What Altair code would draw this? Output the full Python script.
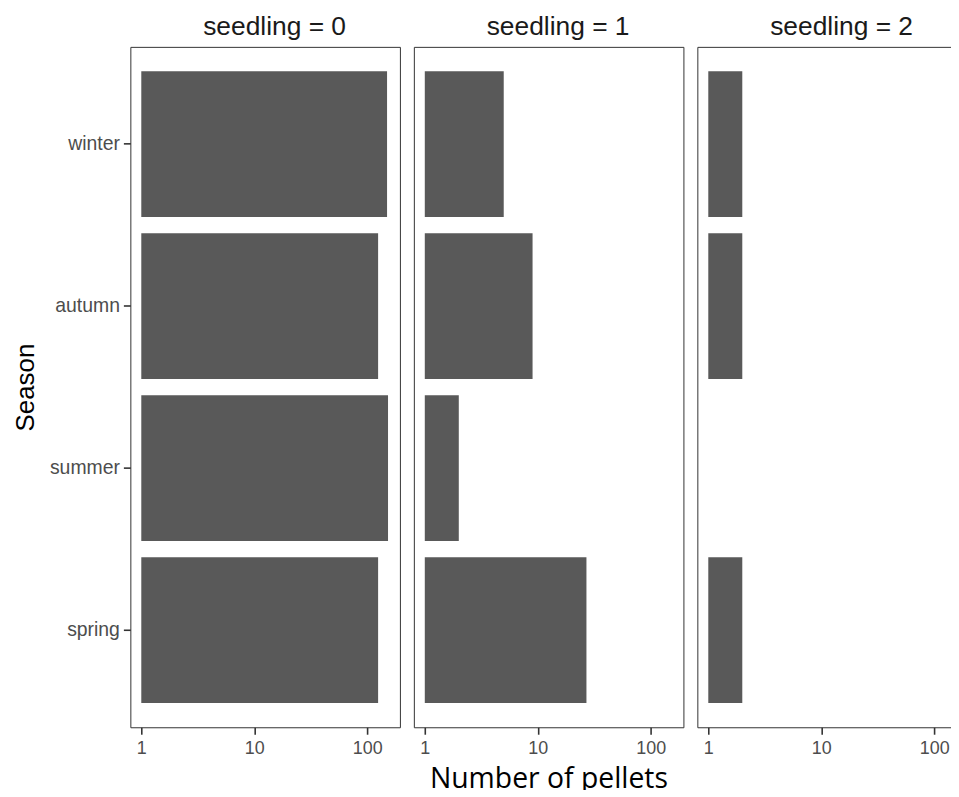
import altair as alt
import pandas as pd

# ---- data ----
seasons = ["spring", "summer", "autumn", "winter"]
season_order = ["winter", "autumn", "summer", "spring"]
seedling_levels = [0, 1, 2]
pellets_seedling0 = [125, 153, 125, 150]
pellets_seedling1 = [27, 2, 9, 5]
pellets_seedling2 = [2, None, 2, 2]
x_ticks = [1, 10, 100]

rows = []
for lvl, vals in zip(seedling_levels, [pellets_seedling0, pellets_seedling1, pellets_seedling2]):
    for s, v in zip(seasons, vals):
        if v is not None:
            rows.append({"seedling": lvl, "season": s, "pellets": v, "base": 1})
df = pd.DataFrame(rows)

FONT = "Liberation Sans"

panels = []
for i, lvl in enumerate(seedling_levels):
    x_axis = alt.Axis(
        values=x_ticks, format="d", title=None,
        labelFont=FONT, labelFontSize=18, labelColor="#4d4d4d", labelPadding=5,
        tickColor="#333333", tickSize=7, tickWidth=1.6, domain=False, grid=False,
    )
    if i == 0:
        y_axis = alt.Axis(
            title="Season", titleFont=FONT, titleFontSize=26, titleFontWeight="normal",
            titleColor="black", titlePadding=11,
            labelFont=FONT, labelFontSize=19.5, labelColor="#4d4d4d", labelPadding=4,
            tickColor="#333333", tickSize=7, tickWidth=1.6, domain=False, grid=False,
        )
    else:
        y_axis = None
    panel = alt.Chart(df).transform_filter(
        alt.datum.seedling == lvl
    ).mark_bar(color="#595959").encode(
        x=alt.X("pellets:Q",
                scale=alt.Scale(type="log", domain=[0.8, 195], nice=False),
                axis=x_axis),
        x2=alt.X2("base:Q"),
        y=alt.Y("season:N",
                scale=alt.Scale(domain=season_order, paddingInner=0.1, paddingOuter=0.15),
                axis=y_axis),
    ).properties(
        width=271, height=684,
        title=alt.TitleParams(
            f"seedling = {lvl}", anchor="middle", frame="group",
            font=FONT, fontSize=26.5, fontWeight="normal", color="#1a1a1a",
            offset=6.5, dx=9.5,
        ),
    )
    panels.append(panel)

chart = alt.hconcat(*panels, spacing=12).properties(
    title=alt.TitleParams(
        "Number of pellets", orient="bottom", anchor="middle", frame="bounds",
        font="Open Sans", fontSize=28.5, fontWeight="normal", color="black",
        offset=8, dx=59.5,
    ),
    padding={"left": 4, "top": 3, "right": -17, "bottom": -6},
).configure_view(stroke="#333333", strokeWidth=1)

chart.save("out.html", embed_options={"renderer": "svg", "actions": False})
